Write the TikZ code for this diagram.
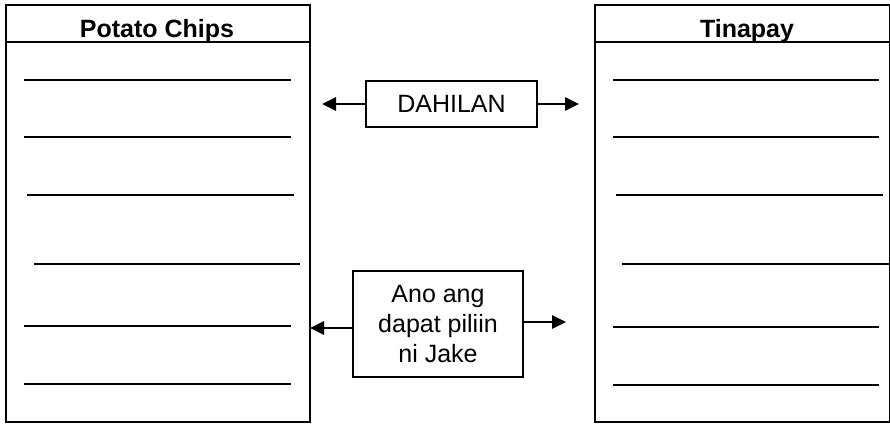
\documentclass[tikz,border=0pt]{standalone}
\usepackage{fontspec}
\setmainfont{Liberation Sans}
\usetikzlibrary{arrows.meta,positioning,calc}

\begin{document}
\begin{tikzpicture}[x=1pt, y=-1pt, >={Triangle[length=14pt,width=13pt]}]
    \tikzset{
        column/.style={draw, line width=1.5pt, minimum width=304pt, minimum height=417pt, inner sep=0pt},
        head/.style={font=\fontsize{25}{30}\selectfont\bfseries, anchor=base},
        reason/.style={draw, line width=1.5pt, align=center, inner sep=0pt, font=\fontsize{25}{30}\selectfont},
        rule/.style={line width=1.8pt},
        link/.style={->, line width=2.8pt}
    }
    \useasboundingbox (0,0) rectangle (890,423);

    % columns
    \node[column, anchor=north west] (chips) at (5,4) {};
    \node[column, anchor=north west, minimum width=295pt] (tinapay) at (594,4) {};
    \draw[line width=1.5pt] ($(chips.north west)+(0,38)$) -- ($(chips.north east)+(0,38)$);
    \draw[line width=1.5pt] ($(tinapay.north west)+(0,38)$) -- ($(tinapay.north east)+(0,38)$);
    \node[head] (chipshead) at (157,37) {Potato Chips};
    \node[head] (tinapayhead) at (747,37) {Tinapay};

    % writing lines
    \foreach \a/\b/\y in {24/291/80, 24/291/137, 27/294/195, 34/300/264, 24/291/326, 24/291/384}
        \draw[rule] (\a,\y) -- (\b,\y);
    \foreach \a/\b/\y in {613/879/80, 613/879/137, 616/883/195, 622/889/264, 613/879/327, 613/879/385}
        \draw[rule] (\a,\y) -- (\b,\y);

    % middle boxes
    \node[reason, minimum width=171pt, minimum height=46pt] (dahilan) at (451.5,104) {DAHILAN};
    \node[reason, minimum width=170pt, minimum height=106pt] (pili) at (438,324) {Ano ang\\dapat piliin\\ni Jake};

    \coordinate (dl) at (322,104);
    \coordinate (dr) at (579,104);
    \coordinate (pl) at (310,328);
    \coordinate (pr) at (566,322);

    \draw[link] (dahilan.west) -- (dl);
    \draw[link] (dahilan.east) -- (dr);
    \draw[link] (pili.west |- pl) -- (pl);
    \draw[link] (pili.east |- pr) -- (pr);
\end{tikzpicture}
\end{document}
